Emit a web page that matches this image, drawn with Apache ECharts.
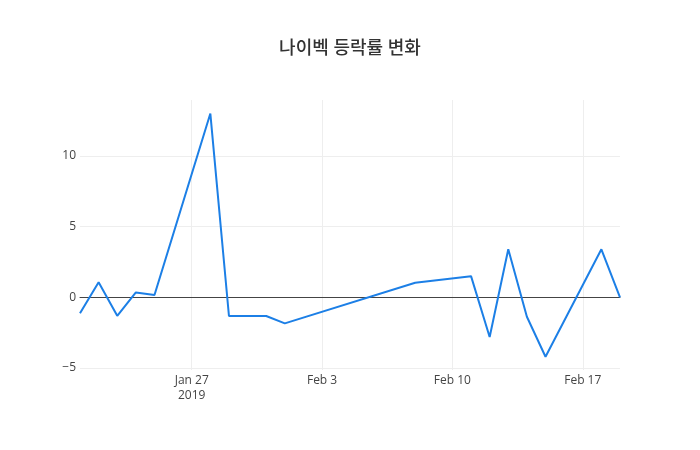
<!DOCTYPE html>
<html>
<head>
<meta charset="utf-8">
<script src="https://cdn.jsdelivr.net/npm/echarts@6/dist/echarts.min.js"></script>
<style>html,body{margin:0;padding:0;background:#fff}#c{width:700px;height:450px}</style>
</head>
<body>
<div id="c"></div>
<script>
const dates = ['2019-01-21','2019-01-22','2019-01-23','2019-01-24','2019-01-25','2019-01-28','2019-01-29','2019-01-30','2019-01-31','2019-02-01','2019-02-08','2019-02-11','2019-02-12','2019-02-13','2019-02-14','2019-02-15','2019-02-18','2019-02-19'];
const changes = [-1.13, 1.06, -1.31, 0.35, 0.16, 13.0, -1.32, -1.32, -1.32, -1.84, 1.03, 1.5, -2.8, 3.4, -1.37, -4.2, 3.4, 0.0];
const xTickDates = ['2019-01-27','2019-02-03','2019-02-10','2019-02-17'];
const yTicks = [-5, 0, 5, 10];
const xRange = ['2019-01-21','2019-02-19'];
const yRange = [-5.14, 13.96];
const title = '나이벡 등락률 변화';

const ts = d => Date.parse(d + 'T00:00:00Z');
const months = ['Jan','Feb','Mar','Apr','May','Jun','Jul','Aug','Sep','Oct','Nov','Dec'];
const font = "'Open Sans', 'Noto Sans CJK KR', sans-serif";

const chart = echarts.init(document.getElementById('c'), null, {renderer: 'canvas'});
chart.setOption({
  animation: false,
  backgroundColor: '#fff',
  title: {
    text: title, left: 'center', top: 35,
    textStyle: {fontFamily: font, fontSize: 18, fontWeight: 500, color: '#333'}
  },
  grid: {left: 80, right: 80, top: 100, bottom: 80},
  xAxis: {
    type: 'value',
    min: ts(xRange[0]), max: ts(xRange[1]),
    axisLine: {show: true, onZero: true, lineStyle: {color: '#444', width: 1}},
    axisTick: {show: false, customValues: xTickDates.map(ts)},
    splitLine: {show: true, lineStyle: {color: '#eee', width: 1}},
    axisLabel: {
      customValues: xTickDates.map(ts),
      fontFamily: font, fontSize: 12, color: '#444', margin: 3, lineHeight: 15,
      formatter: v => {
        const d = new Date(v);
        const s = months[d.getUTCMonth()] + ' ' + d.getUTCDate();
        return xTickDates.indexOf(d.toISOString().slice(0,10)) === 0 ? s + '\n' + d.getUTCFullYear() : s;
      }
    }
  },
  yAxis: {
    type: 'value',
    min: yRange[0], max: yRange[1],
    axisLine: {show: false},
    axisTick: {show: false, customValues: yTicks},
    splitLine: {show: true, lineStyle: {color: '#eee', width: 1}},
    axisLabel: {
      customValues: yTicks,
      fontFamily: font, fontSize: 12, color: '#444', margin: 4,
      formatter: v => (v < 0 ? '\u2212' + Math.abs(v) : String(v))
    }
  },
  series: [{
    type: 'line',
    data: dates.map((d, i) => [ts(d), changes[i]]),
    showSymbol: false,
    lineStyle: {color: '#1c7fe6', width: 2},
    itemStyle: {color: '#1c7fe6'}
  }]
});
</script>
</body>
</html>
